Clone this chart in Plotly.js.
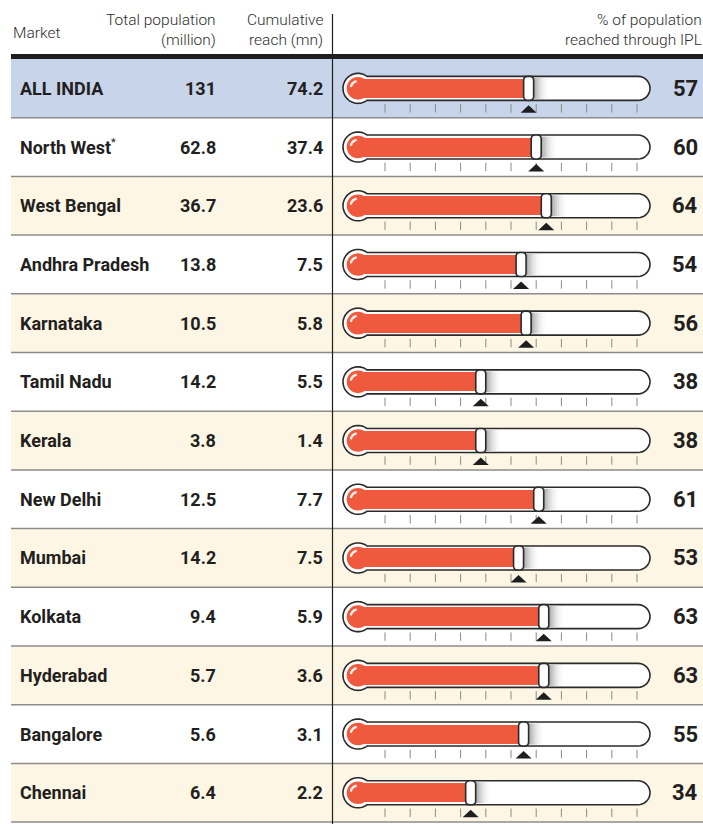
<!DOCTYPE html>
<html><head><meta charset="utf-8">
<script src="https://cdn.plot.ly/plotly-3.0.1.min.js"></script>
<style>html,body{margin:0;padding:0;background:#fff}#chart{width:703px;height:824px}</style>
</head><body><div id="chart"></div>
<script>
// ---------------- data ----------------
const markets = ['ALL INDIA','North West<sup><span style="font-size:11px;font-weight:400">*</span></sup>','West Bengal','Andhra Pradesh','Karnataka','Tamil Nadu','Kerala','New Delhi','Mumbai','Kolkata','Hyderabad','Bangalore','Chennai'];
const totalPop = ['131','62.8','36.7','13.8','10.5','14.2','3.8','12.5','14.2','9.4','5.7','5.6','6.4'];
const cumReach = ['74.2','37.4','23.6','7.5','5.8','5.5','1.4','7.7','7.5','5.9','3.6','3.1','2.2'];
const pctReached = [57,60,64,54,56,38,38,61,53,63,63,55,34];
const scaleTicks = [0,10,20,30,40,50,60,70,80,90,100];
const headers = {
  market: 'Market',
  pop: ['Total population','(million)'],
  reach: ['Cumulative','reach (mn)'],
  pct: ['% of population','reached through IPL']
};

// ---------------- geometry (layout constants) ----------------
const W = 703, H = 824;
const PX0 = 385, PXPER = 2.52;      // pixel of 0 % and pixels per %
const ROW0 = 88.35, ROWH = 58.7;    // centre of first row, row height
const px2v = px => (px - PX0) / PXPER;
const py2r = py => (py - ROW0) / ROWH;
const BULB_V = px2v(358);
const FONT = "Roboto, 'Liberation Sans', sans-serif";
const TXT = '#231f20';
const RED = '#ef5a3f';
const OUT = '#2a2a2a';
const rowFill = i => i === 0 ? '#c8d4ea' : (i % 2 === 0 ? '#fdf6e4' : '#ffffff');
const n = markets.length;

function arc(cx, cy, r, a0, a1, steps) {
  const pts = [];
  for (let k = 0; k <= steps; k++) {
    const a = (a0 + (a1 - a0) * k / steps) * Math.PI / 180;
    pts.push((cx + r * Math.cos(a)).toFixed(2) + ',' + (cy + r * Math.sin(a)).toFixed(2));
  }
  return pts;
}

// tube + bulb outline path (pixel offsets relative to bulb centre, y up)
const R = 15, HH = 12, XJ = Math.sqrt(R * R - HH * HH), XE = 280;
let tubePath = 'M ' + XJ.toFixed(2) + ',' + HH + ' L ' + XE + ',' + HH;
arc(XE, 0, HH, 90, -90, 16).forEach(p => tubePath += ' L ' + p);
tubePath += ' L ' + XJ.toFixed(2) + ',' + (-HH);
const a0 = -Math.atan2(HH, XJ) * 180 / Math.PI;
arc(0, 0, R, a0, a0 - (360 + 2 * a0), 48).forEach(p => tubePath += ' L ' + p);
tubePath += ' Z';

let hlPath = 'M ' + arc(0, 0, 7.3, 100, 170, 10).join(' L ');

const handlePath = 'M -5,-8 L -5,8 Q -5,12 -1,12 L 1,12 Q 5,12 5,8 L 5,-8 Q 5,-12 1,-12 L -1,-12 Q -5,-12 -5,-8 Z';
const triPath = 'M -8,-24.5 L 8,-24.5 L 0,-17 Z';

const shapes = [];
const LX = 11 / W;
for (let i = 0; i < n; i++) {
  shapes.push({type: 'rect', layer: 'below', xref: 'paper', yref: 'y', x0: LX, x1: 1, y0: i - 0.5, y1: i + 0.5,
    fillcolor: rowFill(i), line: {width: 0}});
}
for (let i = 1; i <= n; i++) {
  shapes.push({type: 'line', layer: 'below', xref: 'paper', yref: 'y', x0: LX, x1: 1, y0: i - 0.5, y1: i - 0.5,
    line: {color: '#8c8c8c', width: 1.5}});
}
shapes.push({type: 'rect', layer: 'below', xref: 'paper', yref: 'y', x0: LX, x1: 1, y0: py2r(54), y1: py2r(59),
  fillcolor: '#1e1e1e', line: {width: 0}});
shapes.push({type: 'line', layer: 'above', xref: 'paper', yref: 'paper', x0: 332.5 / W, x1: 332.5 / W, y0: 0, y1: 1 - 14 / H,
  line: {color: '#1e1e1e', width: 1.2}});

for (let i = 0; i < n; i++) {
  const v = pctReached[i];
  shapes.push({type: 'path', layer: 'below', xref: 'x', yref: 'y', xsizemode: 'pixel', ysizemode: 'pixel',
    xanchor: BULB_V, yanchor: i, path: tubePath, fillcolor: '#ffffff', line: {color: OUT, width: 1.6}});
  shapes.push({type: 'circle', layer: 'above', xref: 'x', yref: 'y', xsizemode: 'pixel', ysizemode: 'pixel',
    xanchor: BULB_V, yanchor: i, x0: -11.3, x1: 11.3, y0: -11.3, y1: 11.3, fillcolor: RED, line: {width: 0}});
  shapes.push({type: 'path', layer: 'above', xref: 'x', yref: 'y', xsizemode: 'pixel', ysizemode: 'pixel',
    xanchor: BULB_V, yanchor: i, path: hlPath, fillcolor: 'rgba(0,0,0,0)', line: {color: 'rgba(255,255,255,0.9)', width: 2.4}});
  const sh = [0.42, 0.32, 0.23, 0.15, 0.09, 0.05, 0.02];
  sh.forEach((op, k) => {
    shapes.push({type: 'rect', layer: 'above', xref: 'x', yref: 'y', xsizemode: 'pixel', ysizemode: 'pixel',
      xanchor: v, yanchor: i, x0: 5 + 2 * k, x1: 7 + 2 * k, y0: -10.5, y1: 10.5,
      fillcolor: 'rgba(60,60,60,' + op + ')', line: {width: 0}});
  });
  shapes.push({type: 'path', layer: 'above', xref: 'x', yref: 'y', xsizemode: 'pixel', ysizemode: 'pixel',
    xanchor: v, yanchor: i, path: handlePath, fillcolor: '#ffffff', line: {color: OUT, width: 1.6}});
  shapes.push({type: 'path', layer: 'above', xref: 'x', yref: 'y', xsizemode: 'pixel', ysizemode: 'pixel',
    xanchor: v, yanchor: i, path: triPath, fillcolor: '#1e1e1e', line: {width: 0}});
}

// ---------------- traces ----------------
const rows = markets.map((_, i) => i);
const barTrace = {
  type: 'bar', orientation: 'h', y: rows, x: pctReached.map(v => v - BULB_V), base: BULB_V,
  width: 19 / ROWH, marker: {color: RED, line: {width: 0}}, hoverinfo: 'skip', showlegend: false
};
const tx = [], ty = [];
rows.forEach(i => scaleTicks.forEach(t => { tx.push(t); ty.push(i + 20 / ROWH); }));
const tickTrace = {
  type: 'scatter', mode: 'markers', x: tx, y: ty, hoverinfo: 'skip', showlegend: false,
  marker: {symbol: 'line-ns', size: 6, color: '#8a8a8a', line: {color: '#8a8a8a', width: 1}}
};

// ---------------- text ----------------
const ann = [];
const bold = (size) => ({family: FONT, size: size, color: TXT, weight: 700});
const light = {family: FONT, size: 15.5, color: '#2e2e2e', weight: 300};
rows.forEach(i => {
  ann.push({x: px2v(18), y: i, xref: 'x', yref: 'y', xanchor: 'left', yanchor: 'middle', showarrow: false,
    text: markets[i], font: bold(18)});
  ann.push({x: px2v(218), y: i, xref: 'x', yref: 'y', xanchor: 'right', yanchor: 'middle', showarrow: false,
    text: totalPop[i], font: bold(18)});
  ann.push({x: px2v(325), y: i, xref: 'x', yref: 'y', xanchor: 'right', yanchor: 'middle', showarrow: false,
    text: cumReach[i], font: bold(18)});
  ann.push({x: px2v(700), y: i, xref: 'x', yref: 'y', xanchor: 'right', yanchor: 'middle', showarrow: false,
    text: String(pctReached[i]), font: bold(22)});
});
const hdr = (txt, px, py, anchor) => ann.push({x: px / W, y: 1 - py / H, xref: 'paper', yref: 'paper', xanchor: anchor,
  yanchor: 'middle', showarrow: false, text: txt, font: light});
hdr(headers.market, 11, 33, 'left');
hdr(headers.pop[0], 218, 20, 'right');
hdr(headers.pop[1], 218, 40, 'right');
hdr(headers.reach[0], 325, 20, 'right');
hdr(headers.reach[1], 325, 40, 'right');
hdr(headers.pct[0], 704, 20, 'right');
hdr(headers.pct[1], 704, 40, 'right');

const layout = {
  width: W, height: H, margin: {l: 0, r: 0, t: 0, b: 0, pad: 0},
  paper_bgcolor: '#ffffff', plot_bgcolor: 'rgba(0,0,0,0)', showlegend: false,
  xaxis: {range: [px2v(0), px2v(W)], visible: false, fixedrange: true},
  yaxis: {range: [py2r(H), py2r(0)], visible: false, fixedrange: true},
  bargap: 0, shapes: shapes, annotations: ann
};
Plotly.newPlot('chart', [barTrace, tickTrace], layout, {displayModeBar: false, staticPlot: true});
</script></body></html>
